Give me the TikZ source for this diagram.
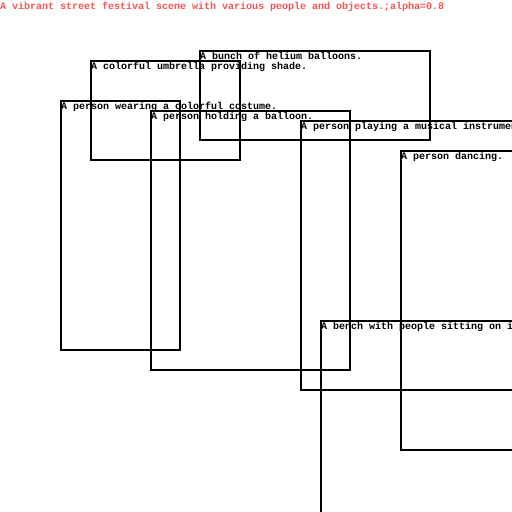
\documentclass[tikz,border=0pt]{standalone}
\usepackage{fontspec}
\setmonofont{Liberation Mono}
\definecolor{ttl}{RGB}{255,82,82}
\begin{document}
\begin{tikzpicture}[x=1pt,y=-1pt,
  box/.style={draw=black,line width=2pt,anchor=north west,inner sep=0pt,outer sep=0pt},
  lbl/.style={anchor=base west,inner sep=0pt,font=\fontsize{10}{10}\selectfont\ttfamily\bfseries},
  ttlstyle/.style={anchor=base west,inner sep=0pt,text=ttl,font=\fontsize{10}{10}\selectfont\ttfamily\bfseries}]
\useasboundingbox (0,0) rectangle (512,512);
\clip (0,0) rectangle (512,512);
\fill[white] (0,0) rectangle (512,512);
\node[ttlstyle] (title) at (0,9) {A vibrant street festival scene with various people and objects.;alpha=0.8};
\node[box,minimum width=230pt,minimum height=89pt] (balloons) at (200,51) {};
\node[box,minimum width=149pt,minimum height=99pt] (umbrella) at (91,61) {};
\node[box,minimum width=119pt,minimum height=249pt] (costume) at (61,101) {};
\node[box,minimum width=199pt,minimum height=259pt] (holding) at (151,111) {};
\node[box,minimum width=260pt,minimum height=269pt] (music) at (301,121) {};
\node[box,minimum width=160pt,minimum height=299pt] (dancing) at (401,151) {};
\node[box,minimum width=240pt,minimum height=260pt] (bench) at (321,321) {};
\node[lbl] (lballoons) at ([yshift=-8pt]balloons.north west) {A bunch of helium balloons.};
\node[lbl] (lumbrella) at ([yshift=-8pt]umbrella.north west) {A colorful umbrella providing shade.};
\node[lbl] (lcostume) at ([yshift=-8pt]costume.north west) {A person wearing a colorful costume.};
\node[lbl] (lholding) at ([yshift=-8pt]holding.north west) {A person holding a balloon.};
\node[lbl] (lmusic) at ([yshift=-8pt]music.north west) {A person playing a musical instrument.};
\node[lbl] (ldancing) at ([yshift=-8pt]dancing.north west) {A person dancing.};
\node[lbl] (lbench) at ([yshift=-8pt]bench.north west) {A bench with people sitting on it.};
\end{tikzpicture}
\end{document}
